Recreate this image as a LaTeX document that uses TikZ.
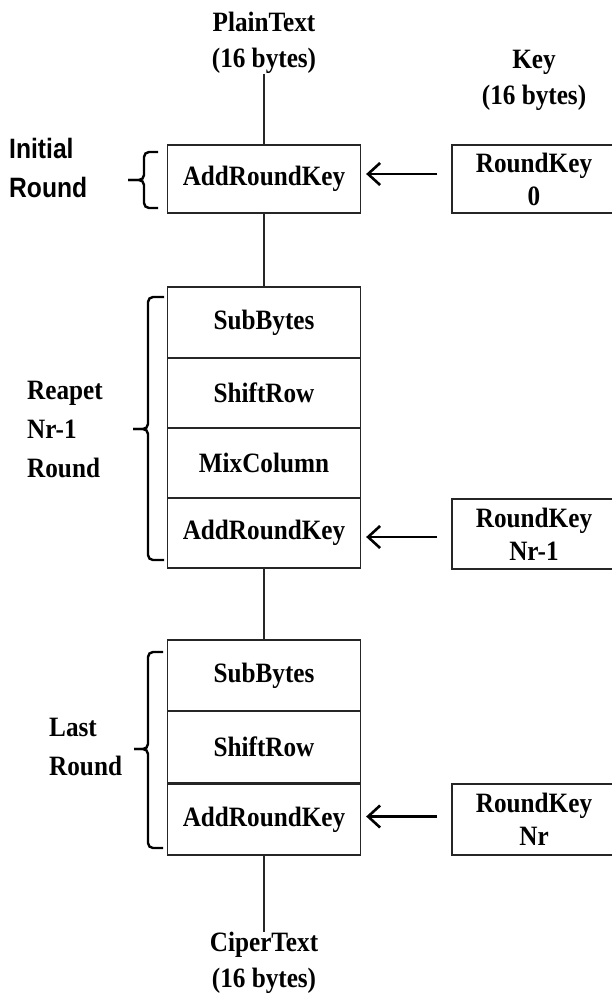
\documentclass[tikz,border=0pt]{standalone}
\usepackage{fontspec}
\setmainfont{Liberation Serif}[FakeStretch=0.9]
\setsansfont{Liberation Sans}[FakeStretch=0.88]
\usetikzlibrary{arrows.meta}
\begin{document}
\begin{tikzpicture}[x=1pt,y=-1pt,
  cell/.style={draw=black!85,line width=1.3pt,minimum width=193pt,inner sep=0pt,
    font=\fontsize{28}{33}\selectfont\bfseries,align=center},
  keybox/.style={draw=black!85,line width=1.3pt,minimum width=164pt,inner sep=0pt,
    font=\fontsize{28}{33}\selectfont\bfseries,align=center},
  iolabel/.style={inner sep=0pt,font=\fontsize{28}{36}\selectfont\bfseries,align=center},
  sidelabel/.style={inner sep=0pt,anchor=west,font=\fontsize{28}{39}\selectfont\bfseries,align=left},
  wire/.style={draw=black!85,line width=1.2pt},
  keyarrow/.style={draw=black,line width=2.6pt,-{Straight Barb[length=12pt,width=22pt,line width=2.6pt]},
    shorten <=14pt,shorten >=5pt},
  bracestyle/.style={draw=black,line width=2.4pt,rounded corners=5pt}]
\useasboundingbox (0,0) rectangle (612,993);

% input / output labels
\node[iolabel] (plain) at (264,43) {PlainText\\(16 bytes)};
\node[iolabel] (key) at (534,80.5) {Key\\(16 bytes)};
\node[iolabel] (cipher) at (264,962.5) {CiperText\\(16 bytes)};

% initial round
\node[cell,minimum height=68pt] (ark0) at (264,179) {AddRoundKey};
\node[keybox,minimum height=68pt] (k0) at (534,179) {RoundKey\\0};

% repeated rounds
\node[cell,minimum height=71pt] (sb1) at (264,322.5) {SubBytes};
\node[cell,minimum height=70pt] (sr1) at (264,393) {ShiftRow};
\node[cell,minimum height=70pt] (mc1) at (264,463) {MixColumn};
\node[cell,minimum height=70pt] (ark1) at (264,533) {AddRoundKey};
\node[keybox,minimum height=70pt] (k1) at (534,534) {RoundKey\\Nr-1};

% last round
\node[cell,minimum height=71pt] (sb2) at (264,675.5) {SubBytes};
\node[cell,minimum height=72pt] (sr2) at (264,747) {ShiftRow};
\node[cell,minimum height=71pt] (ark2) at (264,819.5) {AddRoundKey};
\node[keybox,minimum height=71pt] (k2) at (534,819.5) {RoundKey\\Nr};

% side labels
\node[sidelabel,font=\fontsize{28}{39}\selectfont\sffamily\bfseries] (lab0) at (9,167.5) {Initial\\Round};
\node[sidelabel] (lab1) at (27,429) {Reapet\\Nr-1\\Round};
\node[sidelabel] (lab2) at (49,747) {Last\\Round};

% wires
\draw[wire] (plain.south) -- (ark0.north);
\draw[wire] (ark0.south) -- (sb1.north);
\draw[wire] (ark1.south) -- (sb2.north);
\draw[wire] (ark2.south) -- (cipher.north);

% key arrows
\draw[keyarrow] ([yshift=5pt]k0.west) -- ([yshift=5pt]ark0.east);
\draw[keyarrow] ([yshift=-3pt]k1.west) -- ([yshift=-3pt]k1.west -| ark1.east);
\draw[keyarrow] ([yshift=3pt]k2.west) -- ([yshift=3pt]ark2.east);

% braces
\draw[bracestyle] (158,152) -- (144,152) -- (144,180) -- (128,180);
\draw[bracestyle] (128,180) -- (144,180) -- (144,208) -- (158,208);
\draw[bracestyle] (164,297) -- (148,297) -- (148,429) -- (133,429);
\draw[bracestyle] (133,429) -- (148,429) -- (148,560) -- (164,560);
\draw[bracestyle] (163,652) -- (148,652) -- (148,749) -- (134,749);
\draw[bracestyle] (134,749) -- (148,749) -- (148,848) -- (163,848);
\end{tikzpicture}
\end{document}
